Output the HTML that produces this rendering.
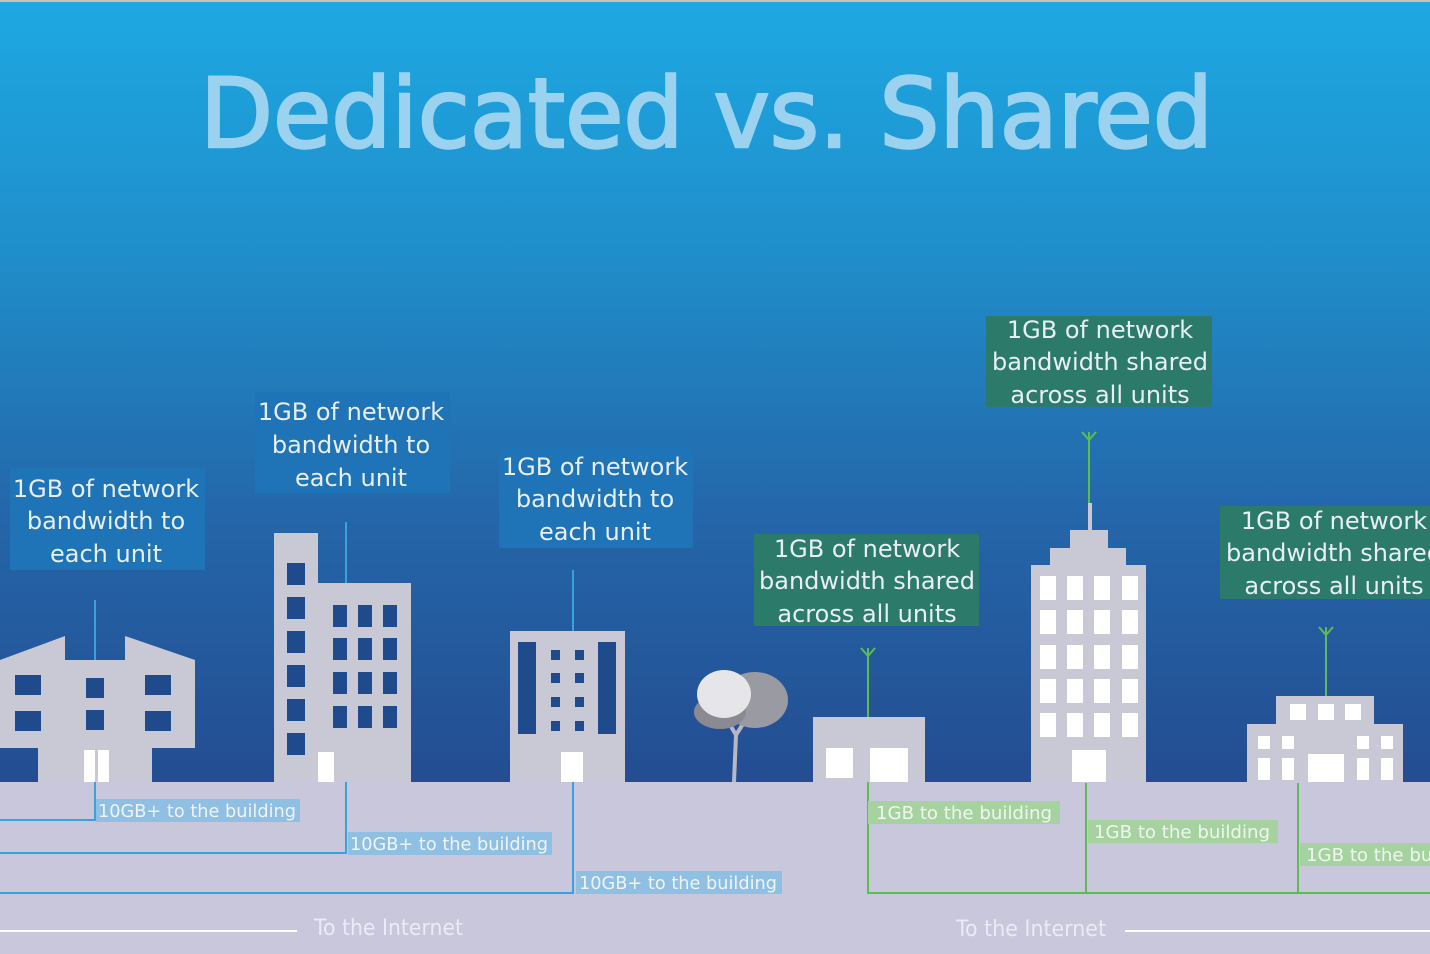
<!DOCTYPE html>
<html><head><meta charset="utf-8"><style>html,body{margin:0;padding:0;width:1430px;height:954px;overflow:hidden}svg{display:block}text{font-family:"DejaVu Sans","Liberation Sans",sans-serif}</style></head>
<body>
<svg width="1430" height="954" viewBox="0 0 1430 954" xmlns="http://www.w3.org/2000/svg">
<defs>
<linearGradient id="sky" x1="0" y1="0" x2="0" y2="1">
<stop offset="0" stop-color="#1ea8e2"/>
<stop offset="0.25" stop-color="#1f90cc"/>
<stop offset="0.55" stop-color="#2465a8"/>
<stop offset="1" stop-color="#243c82"/>
</linearGradient>
</defs>
<rect x="0" y="0" width="1430" height="954" fill="url(#sky)"/>
<rect x="0" y="0" width="1430" height="2" fill="#c9c3bd"/>
<text x="200" y="147" font-size="96" fill="#9ad2f0" stroke="#9ad2f0" stroke-width="2.5" textLength="1013" lengthAdjust="spacingAndGlyphs">Dedicated vs. Shared</text>

<rect x="0" y="782" width="1430" height="172" fill="#c8c7db"/>

<g font-size="24" fill="#e8eef6" text-anchor="middle">
<rect x="10" y="468" width="195" height="102" fill="#1e74b6"/>
<text x="106" y="497">1GB of network</text><text x="106" y="529">bandwidth to</text><text x="106" y="562">each unit</text>
<rect x="255" y="392" width="195" height="101" fill="#1e74b6"/>
<text x="351" y="420">1GB of network</text><text x="351" y="453">bandwidth to</text><text x="351" y="486">each unit</text>
<rect x="499" y="446" width="194" height="102" fill="#1e74b6"/>
<text x="595" y="475">1GB of network</text><text x="595" y="507">bandwidth to</text><text x="595" y="540">each unit</text>
<rect x="754" y="534" width="225" height="92" fill="#2c7a6a"/>
<text x="867" y="557">1GB of network</text><text x="867" y="589">bandwidth shared</text><text x="867" y="622">across all units</text>
<rect x="986" y="316" width="226" height="91" fill="#2c7a6a"/>
<text x="1100" y="338">1GB of network</text><text x="1100" y="370">bandwidth shared</text><text x="1100" y="403">across all units</text>
<rect x="1220" y="506" width="215" height="93" fill="#2c7a6a"/>
<text x="1334" y="529">1GB of network</text><text x="1334" y="561">bandwidth shared</text><text x="1334" y="594">across all units</text>
</g>

<!-- connectors above buildings -->
<g stroke="#39a2dc" stroke-width="2" fill="none">
<path d="M95 600 V662"/>
<path d="M346 522 V585"/>
<path d="M573 570 V633"/>
</g>

<g fill="#c9c9d5">
<polygon points="0,660 65,636 65,748 0,748"/>
<polygon points="125,636 195,660 195,748 125,748"/>
<rect x="38" y="660" width="114" height="122"/>
<rect x="274" y="533" width="44" height="249"/>
<rect x="318" y="583" width="93" height="199"/>
<rect x="510" y="631" width="115" height="151"/>
<rect x="813" y="717" width="112" height="65"/>
<rect x="1031" y="565" width="115" height="217"/>
<rect x="1050" y="548" width="76" height="20"/>
<rect x="1070" y="530" width="38" height="20"/>
<rect x="1088" y="503" width="4" height="28"/>
<rect x="1247" y="724" width="156" height="58"/>
<rect x="1276" y="696" width="98" height="30"/>
</g>
<g fill="#1f4a8c">
<rect x="15" y="675" width="26" height="20"/><rect x="15" y="711" width="26" height="20"/>
<rect x="145" y="675" width="26" height="20"/><rect x="145" y="711" width="26" height="20"/>
<rect x="86" y="678" width="18" height="20"/><rect x="86" y="710" width="18" height="20"/>
<rect x="287" y="563" width="18" height="22"/><rect x="287" y="597" width="18" height="22"/><rect x="287" y="631" width="18" height="22"/><rect x="287" y="665" width="18" height="22"/><rect x="287" y="699" width="18" height="22"/><rect x="287" y="733" width="18" height="22"/>
<rect x="333" y="605" width="14" height="22"/><rect x="358" y="605" width="14" height="22"/><rect x="383" y="605" width="14" height="22"/>
<rect x="333" y="638" width="14" height="22"/><rect x="358" y="638" width="14" height="22"/><rect x="383" y="638" width="14" height="22"/>
<rect x="333" y="672" width="14" height="22"/><rect x="358" y="672" width="14" height="22"/><rect x="383" y="672" width="14" height="22"/>
<rect x="333" y="706" width="14" height="22"/><rect x="358" y="706" width="14" height="22"/><rect x="383" y="706" width="14" height="22"/>
<rect x="518" y="642" width="18" height="92"/><rect x="598" y="642" width="18" height="92"/>
<rect x="551" y="650" width="9" height="10"/><rect x="575" y="650" width="9" height="10"/>
<rect x="551" y="673" width="9" height="10"/><rect x="575" y="673" width="9" height="10"/>
<rect x="551" y="697" width="9" height="10"/><rect x="575" y="697" width="9" height="10"/>
<rect x="551" y="721" width="9" height="10"/><rect x="575" y="721" width="9" height="10"/>
</g>
<g fill="#ffffff">
<rect x="84" y="750" width="11" height="32"/><rect x="98" y="750" width="11" height="32"/>
<rect x="318" y="752" width="16" height="30"/>
<rect x="561" y="752" width="22" height="30"/>
<rect x="826" y="748" width="27" height="30"/><rect x="870" y="748" width="38" height="34"/>
<rect x="1040" y="576" width="16" height="24"/><rect x="1067" y="576" width="16" height="24"/><rect x="1094" y="576" width="16" height="24"/><rect x="1122" y="576" width="16" height="24"/>
<rect x="1040" y="610" width="16" height="24"/><rect x="1067" y="610" width="16" height="24"/><rect x="1094" y="610" width="16" height="24"/><rect x="1122" y="610" width="16" height="24"/>
<rect x="1040" y="645" width="16" height="24"/><rect x="1067" y="645" width="16" height="24"/><rect x="1094" y="645" width="16" height="24"/><rect x="1122" y="645" width="16" height="24"/>
<rect x="1040" y="679" width="16" height="24"/><rect x="1067" y="679" width="16" height="24"/><rect x="1094" y="679" width="16" height="24"/><rect x="1122" y="679" width="16" height="24"/>
<rect x="1040" y="713" width="16" height="24"/><rect x="1067" y="713" width="16" height="24"/><rect x="1094" y="713" width="16" height="24"/><rect x="1122" y="713" width="16" height="24"/>
<rect x="1072" y="750" width="34" height="32"/>
<rect x="1290" y="704" width="16" height="16"/><rect x="1318" y="704" width="16" height="16"/><rect x="1345" y="704" width="16" height="16"/>
<rect x="1258" y="736" width="12" height="13"/><rect x="1282" y="736" width="12" height="13"/><rect x="1357" y="736" width="12" height="13"/><rect x="1381" y="736" width="12" height="13"/>
<rect x="1258" y="758" width="12" height="22"/><rect x="1282" y="758" width="12" height="22"/><rect x="1357" y="758" width="12" height="22"/><rect x="1381" y="758" width="12" height="22"/>
<rect x="1308" y="754" width="36" height="28"/>
</g>

<g>
<path d="M734 782 L736 735 L726 718 M736 735 L748 716" stroke="#b8b8c4" stroke-width="4" fill="none"/>
<ellipse cx="755" cy="700" rx="33" ry="28" fill="#9a9aa2"/>
<ellipse cx="720" cy="712" rx="26" ry="17" fill="#8a8a92"/>
<ellipse cx="724" cy="694" rx="27" ry="24" fill="#e6e6ea"/>
</g>

<g stroke="#39a2dc" stroke-width="2" fill="none">
<path d="M95 782 V820 H0"/>
<path d="M346 782 V853 H0"/>
<path d="M573 782 V893 H0"/>
</g>
<g font-size="18" fill="#eef4fa">
<rect x="96" y="799" width="204" height="23" fill="#8fbfe2"/><text x="98" y="817" textLength="198" lengthAdjust="spacingAndGlyphs">10GB+ to the building</text>
<rect x="348" y="832" width="204" height="23" fill="#8fbfe2"/><text x="350" y="850" textLength="198" lengthAdjust="spacingAndGlyphs">10GB+ to the building</text>
<rect x="576" y="871" width="206" height="23" fill="#8fbfe2"/><text x="579" y="889" textLength="198" lengthAdjust="spacingAndGlyphs">10GB+ to the building</text>
</g>

<g stroke="#5dbd4e" stroke-width="2" fill="none">
<path d="M868 648 V717"/>
<path d="M868 782 V893 H1430"/>
<path d="M861 648 L868 656 L875 648"/>
<path d="M1086 783 V893"/>
<path d="M1089 432 V503"/>
<path d="M1082 432 L1089 440 L1096 432"/>
<path d="M1326 627 V696"/>
<path d="M1319 627 L1326 635 L1333 627"/>
<path d="M1298 783 V893"/>
</g>
<g font-size="18" fill="#eef6ee">
<rect x="868" y="801" width="192" height="23" fill="#a6d2a0"/><text x="876" y="819" textLength="176" lengthAdjust="spacingAndGlyphs">1GB to the building</text>
<rect x="1088" y="820" width="190" height="23" fill="#a6d2a0"/><text x="1094" y="838" textLength="176" lengthAdjust="spacingAndGlyphs">1GB to the building</text>
<rect x="1300" y="843" width="140" height="23" fill="#a6d2a0"/><text x="1306" y="861" textLength="176" lengthAdjust="spacingAndGlyphs">1GB to the building</text>
</g>

<g stroke="#ffffff" stroke-width="2">
<line x1="0" y1="931" x2="297" y2="931"/>
<line x1="1125" y1="931" x2="1430" y2="931"/>
</g>
<g font-size="22" fill="#eceaf4">
<text x="314" y="935" textLength="149" lengthAdjust="spacingAndGlyphs">To the Internet</text>
<text x="956" y="936" textLength="150" lengthAdjust="spacingAndGlyphs">To the Internet</text>
</g>
</svg>
</body></html>
